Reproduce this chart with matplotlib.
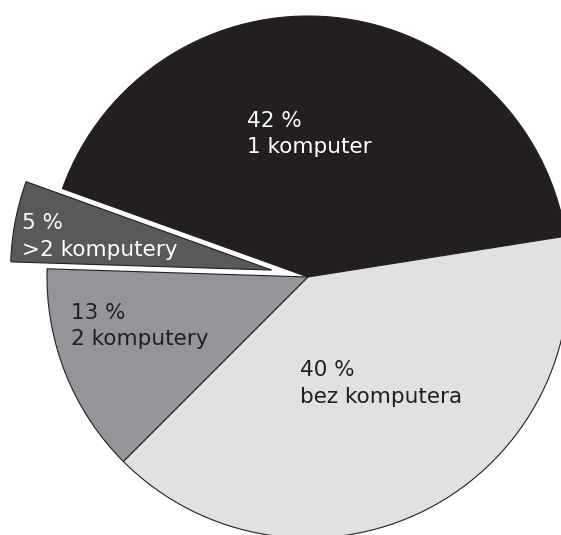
import matplotlib.pyplot as plt

# dane: gospodarstwa domowe wg liczby komputerów
udzialy = [42, 5, 13, 40]
opisy = ['1 komputer', '>2 komputery', '2 komputery', 'bez komputera']
kolory = ['#231f20', '#58595b', '#939598', '#e0e1e3']
kolory_tekstu = ['white', 'white', '#231f20', '#231f20']

plt.rcParams['font.family'] = ['DejaVu Sans']

fig = plt.figure(figsize=(5.61, 5.35), dpi=100)
ax = fig.add_axes([0, 0, 1, 1])

# środek i promień w pikselach (oś y do góry), wysunięcie też w pikselach
srodek = (308, 535 - 277)
promien = 261
wysuniecie = [0, 37, 0, 0]

ax.pie(udzialy, colors=kolory, explode=wysuniecie, startangle=9,
       counterclock=True, center=srodek, radius=promien, frame=True,
       wedgeprops=dict(edgecolor='#231f20', linewidth=0.8))

# pozycje podpisów: lewa krawędź, linie bazowe obu wierszy (piksele od góry)
pozycje = [(247, 127, 153), (22, 229, 256), (71, 319, 345), (300, 376, 403)]
for u, opis, kol, (x, y1, y2) in zip(udzialy, opisy, kolory_tekstu, pozycje):
    ax.text(x, 535 - y1, f'{u} %', color=kol, fontsize=15.5,
            ha='left', va='baseline')
    ax.text(x, 535 - y2, opis, color=kol, fontsize=15.5,
            ha='left', va='baseline')

ax.set_xlim(0, 561)
ax.set_ylim(0, 535)
ax.axis('off')

fig.savefig('out.png', dpi=100)
